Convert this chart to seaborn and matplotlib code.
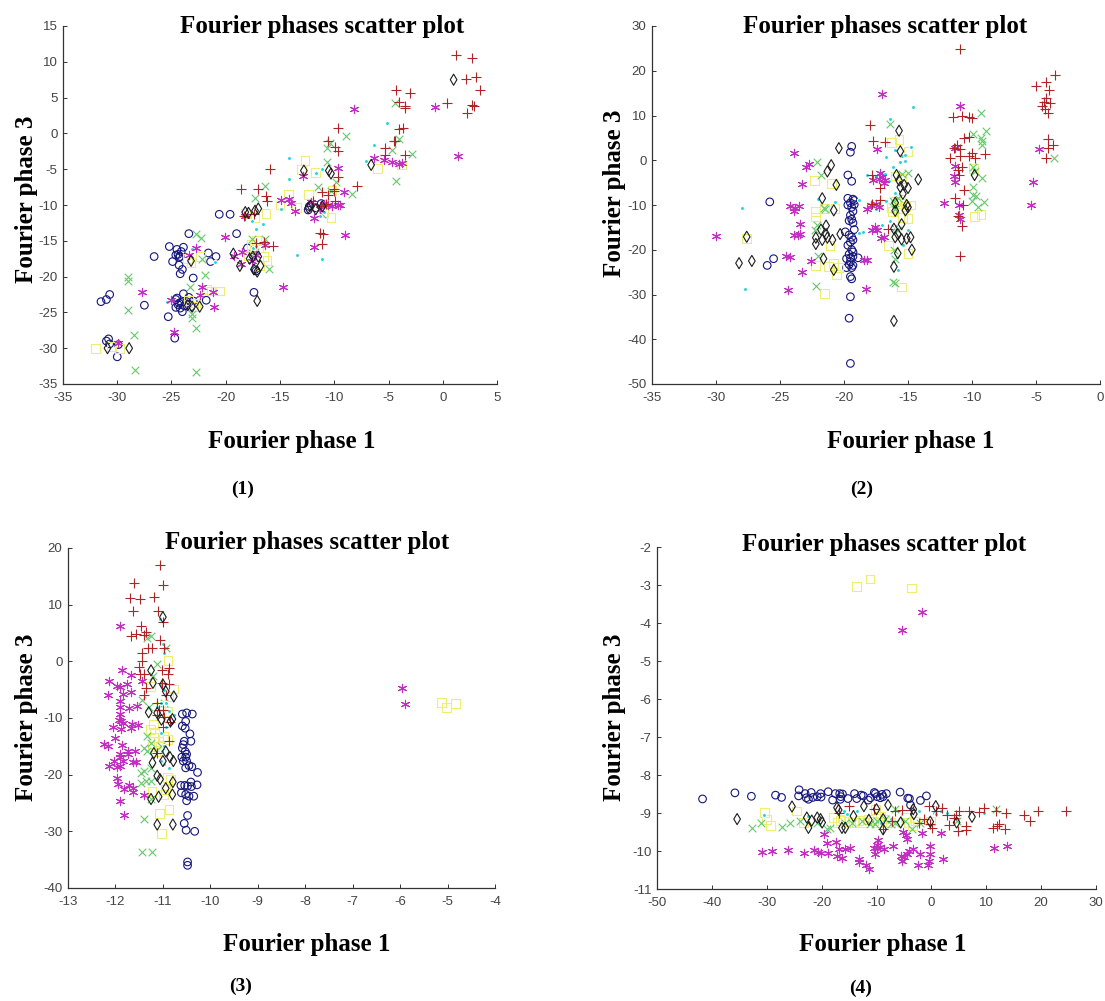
import matplotlib
matplotlib.use('Agg')
import matplotlib.pyplot as plt
import pandas as pd
import seaborn as sns

# panel 1 values, (phase 1, phase 3)
p1_circle = [(-31.5,-23.5),(-31,-23.2),(-30.7,-22.5),(-27.5,-24),(-26.6,-17.2),(-25.2,-15.8),(-24.9,-17.9),(-24.6,-17),(-24.5,-16.2),(-24.3,-17.3),(-24.1,-16.5),(-24.3,-18.4),(-24.2,-19.6),(-24,-19),(-23.9,-15.9),(-23.4,-14),(-23,-20.2),(-21.6,-16.7),(-21.4,-17.9),(-20.9,-17.2),(-20.6,-11.3),(-19.6,-11.3),(-19,-14),(-25.3,-25.6),(-24.7,-28.6),(-24.6,-24.3),(-24.5,-23),(-24.3,-23.7),(-24.2,-24.4),(-24,-24.9),(-23.9,-22.4),(-23.6,-23.5),(-23.4,-22.9),(-23.2,-24.2),(-23,-23.4),(-24.6,-23.2),(-21.8,-23.3),(-17.4,-22.2),(-31,-29),(-30.8,-28.7),(-30.7,-29.4),(-30,-31.2),(-29.9,-29.5),(-18,-16),(-17.5,-17),(-17.3,-19),(-17.2,-19.2),(-12.4,-10.7),(-12.3,-10.2),(-11.2,-9.8),(-11.7,-10.4),(-24.4,-23.9),(-24.1,-23.6),(-23.8,-24.1),(-24.2,-17.2),(-24.4,-16.9)]
p1_diamond = [(1,7.5),(-6.6,-4.4),(-12.8,-5.2),(-10.5,-5.2),(-10.3,-5.6),(-17,-10.5),(-17.3,-10.8),(-17.9,-11.1),(-19.3,-16.8),(-18.7,-18.5),(-17.8,-17.5),(-17.4,-19),(-17.1,-19.3),(-17.1,-23.4),(-16.8,-18.5),(-17.5,-17.2),(-17,-17.2),(-12.4,-10.4),(-12.2,-10.1),(-11.7,-10.6),(-11.1,-10.2),(-30.9,-30),(-28.9,-30),(-23.2,-17.8),(-22.4,-24.2),(-23.5,-24),(-23.1,-24.2),(-18.2,-11)]
p1_square = [(-32,-30),(-30.5,-29.8),(-29.8,-30),(-23.2,-18),(-22.3,-17.2),(-23.5,-17.5),(-21.8,-21.8),(-20.6,-22),(-21.3,-22),(-23.4,-23.3),(-23,-24.2),(-22.8,-23.7),(-18.2,-11.2),(-17.3,-11.8),(-16.3,-11.2),(-15,-10),(-14.2,-8.5),(-13.5,-10.3),(-12.4,-8.5),(-12.7,-3.8),(-13,-5),(-11.7,-5.5),(-11,-11),(-10.3,-11.7),(-10.2,-8),(-6,-4.9),(-3.8,-4.4),(-17.6,-15.5),(-17.2,-15),(-16.5,-17.2),(-16.2,-17.8),(-17,-16),(-17.9,-17),(-17.4,-15.9),(-16.9,-18.4)]
p1_cross = [(-29,-20),(-29,-20.6),(-29,-24.7),(-28.5,-28.2),(-28.4,-33.1),(-22.7,-33.3),(-22.7,-27.2),(-23.1,-25.8),(-23.1,-25.2),(-22.7,-14),(-22.3,-14.6),(-22.2,-17.5),(-21.9,-19.8),(-23.3,-21.5),(-17.3,-9),(-16.4,-7.4),(-17.6,-14.8),(-16.4,-14.7),(-16,-18.9),(-11.5,-7.5),(-10.7,-4),(-10.7,-2),(-10.4,-1.3),(-8.9,-0.3),(-9.8,-6.8),(-10.3,-8),(-8.4,-8.5),(-4.4,4.2),(-4,-0.8),(-4.7,-2.3),(-4.3,-6.6),(-2.8,-2.9),(-11.1,-11.3),(-17.3,-16.5),(-10.9,-10)]
p1_star = [(-27.7,-22.2),(-29.9,-29.3),(-24.8,-27.7),(-25,-23.2),(-23.4,-17),(-22.7,-16),(-22.2,-21.4),(-22.4,-22.6),(-21.2,-22.2),(-21.1,-24.3),(-20.1,-14.4),(-18.5,-16.5),(-18.6,-18.3),(-19.2,-17.1),(-18.2,-11.5),(-16.4,-15.6),(-14.7,-21.4),(-14.9,-9.3),(-14.2,-9.2),(-14,-9.7),(-13.6,-10.9),(-12.9,-6),(-11.9,-11.8),(-11.9,-15.8),(-12.1,-9.6),(-9,-14.2),(-9.1,-8.2),(-9.7,-4.8),(-8.2,3.4),(-6.3,-3.5),(-5.4,-3.7),(-4.7,-4),(-4,-4.3),(-3.8,-4.1),(-0.7,3.7),(1.4,-3.1),(-10.6,-10),(-10.2,-10.2),(-9.7,-10),(-9.5,-10),(-10.9,-9.8),(-11.3,-10.5),(-17.2,-17),(-17.6,-17.8)]
p1_plus = [(1.2,11),(2.7,10.6),(3.1,7.9),(2.1,7.6),(3.4,6),(0.4,4.2),(2.7,3.9),(2.9,3.8),(2.2,2.8),(-4.3,6),(-3,5.6),(-4,4.4),(-3.5,3.8),(-3.5,3.5),(-4,0.6),(-3.7,0.7),(-4.4,-1),(-4.5,-1.1),(-5.3,-2),(-5.3,-3),(-3.5,-3),(-9.7,0.8),(-10.6,-1),(-9.9,-1.9),(-9.7,-2.4),(-9.7,-6.1),(-7.9,-7.4),(-11.1,-8.2),(-10,-7.7),(-10,-8.1),(-10.6,-8.6),(-9.9,-9.5),(-15.9,-5),(-18.6,-7.7),(-17,-7.7),(-16.3,-8.8),(-16.2,-9.5),(-15.6,-15.7),(-16.5,-15.1),(-17.2,-15.3),(-11.3,-13.9),(-11,-14.1),(-11.1,-15.4),(-11.2,-10.2),(-10.8,-9.9),(-17.4,-11.3),(-18.3,-11.6),(-12,-9.5)]
p1_dot = [(-25.4,-23.6),(-23.1,-16.2),(-21,-17.9),(-17.6,-12.3),(-17.2,-13.4),(-16.6,-12.6),(-14.9,-10.6),(-14.2,-6.3),(-14.2,-3.5),(-13.4,-17),(-11.1,-17.6),(-11.7,-5.6),(-11.1,-5),(-5.1,1.5),(-6.3,-1.6),(-7.1,-3.8),(-17,-16.5),(-17.5,-16),(-11.3,-11.5),(-17.2,-15.7),(-10.9,-11)]

# panel 2 values
p2_circle = [(-25.8,-9.3),(-26,-23.5),(-25.5,-22),(-19.4,3.1),(-19.5,1.8),(-19.7,-3.3),(-19.4,-4.7),(-19.7,-8.5),(-19.3,-8.7),(-19.2,-9),(-19.5,-9.5),(-19.7,-10),(-19.2,-9.9),(-19.4,-10.5),(-19.3,-11.4),(-19.5,-12.3),(-19.4,-13.2),(-19.6,-13.5),(-19.3,-14),(-19.2,-15.5),(-19.9,-16),(-19.6,-16.7),(-19.4,-17.2),(-19.3,-17.8),(-19.5,-18.3),(-19.7,-19),(-19.4,-20),(-19.3,-20.5),(-19.6,-21),(-19.5,-21.8),(-19.3,-21.5),(-18.9,-21.8),(-19.8,-22),(-19.5,-22.7),(-19.3,-23.5),(-19.6,-23.3),(-19.8,-24),(-19.4,-24),(-19.5,-26),(-19.4,-26.5),(-19.5,-30.5),(-19.6,-35.3),(-19.5,-45.4)]
p2_diamond = [(-20.4,2.7),(-21,-1.1),(-21.3,-2.5),(-20.6,-5.5),(-21.7,-8.5),(-20.8,-11.2),(-21.4,-14.6),(-21.8,-15.5),(-22.2,-17.3),(-22.2,-18.7),(-21.7,-17.8),(-21.4,-16.5),(-21.3,-17.3),(-20.9,-17.8),(-20.3,-16.5),(-21.6,-22),(-20.8,-24.5),(-28.2,-23),(-27.2,-22.5),(-27.6,-17.1),(-16.1,-35.9),(-15.7,6.6),(-15.6,2),(-14.2,-4.3),(-15.9,-3.3),(-15.7,-4.5),(-15.6,-6),(-15,-6.2),(-15.3,-5.5),(-15.4,-7.5),(-16,-9.5),(-16,-11.3),(-15.1,-10),(-15,-10.5),(-15.2,-11.2),(-15.5,-14.3),(-16.1,-15.3),(-16,-17.2),(-15.8,-16.5),(-15.1,-17.5),(-14.8,-17.2),(-15.5,-17.7),(-15.8,-20.8),(-14.7,-20),(-16.1,-23.8),(-9.8,-3.3)]
p2_square = [(-27.6,-17.5),(-22.3,-4.5),(-21,-5.2),(-22.2,-11.5),(-22.2,-12.7),(-21.5,-10.7),(-20.7,-10.7),(-21.1,-19),(-22.2,-23.5),(-21.2,-23.7),(-20.8,-23),(-20.4,-24),(-20.6,-25.5),(-21.5,-29.8),(-15.5,-28.3),(-16.5,-19),(-15,-20.8),(-16.3,3.9),(-15.7,4.6),(-15,2),(-16,-3.5),(-15.5,-4),(-16.3,-10.5),(-16,-9.2),(-15.5,-9.7),(-15.2,-10.3),(-14.8,-10),(-15.4,-12.8),(-15,-13),(-9.8,-12.6),(-9.3,-12.1),(-9.9,-1.8),(-15.8,-10.8),(-15.6,-8.8),(-16.2,-11.5)]
p2_cross = [(-22.1,-0.5),(-21.8,-3.3),(-21.6,-10.7),(-21.5,-11),(-22.1,-14.5),(-22.3,-15.5),(-22,-21.4),(-22.2,-28),(-16.4,8.2),(-16.2,-27.3),(-16,-27.5),(-16,-15.2),(-15.8,-15.5),(-16.1,-20),(-16,-22),(-16.2,-9),(-15.8,-8.5),(-16,-10.8),(-15.5,-3),(-15,-2.8),(-9.3,10.5),(-9.9,5.8),(-9.3,5),(-8.9,6.5),(-9.2,3.5),(-9.2,4.2),(-9.9,-1.5),(-9.8,-2.5),(-9.2,-4),(-9.9,-6),(-9.9,-7.7),(-9.7,-8),(-10,-9),(-9.5,-10.5),(-9.1,-9.3),(-3.6,0.4)]
p2_star = [(-30,-16.9),(-23.9,1.6),(-23,-1.5),(-22.7,-0.9),(-23.3,-5.4),(-24.2,-10.2),(-23.9,-11.3),(-23.8,-10.7),(-23.5,-10.3),(-23.4,-14.3),(-23.9,-16.8),(-23.6,-16.8),(-23.4,-16.4),(-24.5,-21.5),(-24.2,-21.6),(-23.3,-24.9),(-24.4,-29),(-22.6,-22.5),(-18.4,-22.4),(-18.2,-22.3),(-18.3,-28.7),(-18.2,-10.8),(-17.9,-10),(-17.5,-9.8),(-17.3,-10.5),(-17.6,-15),(-17.8,-15.5),(-17.4,-15.5),(-17.1,-17.3),(-16.9,-17.2),(-17,14.7),(-17.4,2.5),(-17.2,-2.8),(-17,-3.7),(-17.3,-4.2),(-17.7,-4.5),(-16.8,-4.5),(-16.9,-5),(-11.3,2.7),(-11.3,-1.2),(-11.4,-3.6),(-11.3,-4.8),(-12.2,-9.5),(-11,-10),(-10.9,12.2),(-11,-12.3),(-10.9,-13.2),(-5.2,-4.8),(-5.4,-10),(-4.8,2.6)]
p2_plus = [(-10.9,24.8),(-3.5,19),(-4.2,17.5),(-5,16.7),(-4,15.8),(-4.2,14),(-4.4,13),(-4.5,12.2),(-4.3,11.5),(-3.9,12.7),(-4.1,10.5),(-4.1,4.8),(-4.1,2.8),(-3.7,3.4),(-4.2,0.4),(-18,7.9),(-17.7,4.2),(-16.8,4),(-17.8,-3.2),(-17.2,-6.2),(-17.2,-8.8),(-17.8,-9.8),(-16.6,-15.4),(-11.5,9.7),(-10.8,10),(-10.2,9.6),(-10,9.4),(-10.6,5),(-10.2,5.3),(-11.2,3.3),(-11.4,2.8),(-10.9,2.5),(-10.9,0.9),(-11.7,0.6),(-10.2,0.9),(-10,1.7),(-9.8,0.5),(-9,1.4),(-10.8,-1.4),(-11.1,-2.2),(-11,-3.3),(-10.6,-6.7),(-11.3,-8.5),(-10.7,-9.9),(-11.1,-12.5),(-10.8,-14.6),(-10.9,-21.3)]
p2_dot = [(-28,-10.7),(-27.7,-28.7),(-22,-8.7),(-20.7,-9.3),(-18.8,-8.8),(-18.5,-16),(-18.8,-16.3),(-18.2,-3.4),(-16.4,9.3),(-14.6,11.8),(-14.8,3),(-16,2.3),(-15.5,1),(-15.2,1.2),(-16.7,0.8),(-15.6,-0.5),(-15.2,-0.2),(-16.2,-1.5),(-16.8,-3),(-16.5,-4.6),(-17.5,-11),(-16.7,-9),(-16,-7.4),(-16.4,-13.5),(-17,-14.5),(-15.9,-14.8),(-15,-15.5),(-15.4,-19),(-15.8,-24.5),(-17.2,-10.5),(-17.5,-3.5)]

# panel 3 values
p3_circle = [(-10.59,-9.3),(-10.5,-9.1),(-10.38,-9.3),(-10.52,-10.6),(-10.59,-11.4),(-10.53,-11.8),(-10.43,-12.8),(-10.41,-14.1),(-10.55,-14.1),(-10.57,-14.7),(-10.59,-15.3),(-10.53,-15.9),(-10.5,-16.4),(-10.52,-16.9),(-10.6,-16.9),(-10.5,-17.6),(-10.57,-17.6),(-10.45,-18.4),(-10.39,-18.6),(-10.52,-18.8),(-10.27,-19.6),(-10.62,-21.9),(-10.54,-21.9),(-10.41,-21.3),(-10.28,-21.8),(-10.48,-22),(-10.4,-22.1),(-10.61,-23.2),(-10.52,-23.5),(-10.45,-23.8),(-10.35,-23.8),(-10.5,-24.6),(-10.48,-27.2),(-10.55,-28.6),(-10.51,-29.8),(-10.33,-30),(-10.48,-35.4),(-10.48,-36)]
p3_diamond = [(-11,7.8),(-11.25,-1.6),(-11.21,-3.8),(-11,-4.1),(-10.94,-5.3),(-10.77,-6.2),(-11.3,-9),(-11.12,-9.1),(-11.03,-10.3),(-10.84,-10.6),(-10.8,-10.2),(-11.19,-16.2),(-10.94,-15.9),(-10.85,-16.9),(-11.22,-17.9),(-11,-17.6),(-10.78,-17.6),(-11.12,-20.2),(-11.06,-20.8),(-10.79,-21.3),(-10.94,-22.4),(-10.8,-23.5),(-11.09,-23.9),(-11.25,-24.3),(-11.12,-28.8),(-10.79,-28.8)]
p3_square = [(-10.89,0.1),(-10.77,-4.9),(-11.26,-4.4),(-10.87,-6.2),(-11.05,-8),(-10.91,-8.8),(-11.19,-11.2),(-11.26,-12),(-11.18,-12.6),(-10.98,-13.2),(-10.91,-13.8),(-11.23,-15),(-11.09,-15),(-10.91,-20.5),(-10.84,-20.9),(-10.95,-22.6),(-11.23,-23),(-10.98,-23.5),(-10.87,-26.2),(-11.07,-26.9),(-11.03,-30.4),(-5.13,-7.2),(-5.03,-8.2),(-4.83,-7.4),(-11.2,-13.5),(-11.1,-14.2),(-11.16,-16)]
p3_cross = [(-11.33,4.1),(-11.26,4.4),(-10.93,2.4),(-11.12,-0.5),(-11.2,-2.6),(-11.43,-6.8),(-11.3,-8),(-10.98,-7.4),(-11.33,-13.2),(-11.26,-14.4),(-11.4,-15.3),(-11.33,-15.9),(-11.39,-19.4),(-11.26,-18.8),(-11.47,-21.5),(-11.35,-21.2),(-11.26,-21.1),(-11.47,-19.7),(-11.26,-24.3),(-11.4,-27.9),(-11.45,-33.7),(-11.24,-33.6),(-11.05,-15)]
p3_star = [(-11.9,6.3),(-11.87,-1.5),(-11.67,-2.4),(-12.13,-3.4),(-11.97,-4.4),(-11.9,-4.6),(-11.76,-4),(-12.15,-6),(-11.84,-5.7),(-11.67,-5.4),(-11.9,-7),(-11.91,-8),(-11.72,-8.2),(-11.55,-7.8),(-11.91,-9.3),(-11.88,-10.6),(-11.93,-10.3),(-11.85,-10.9),(-12.06,-11.6),(-11.88,-12),(-11.67,-11.8),(-11.65,-11),(-11.53,-11.3),(-12,-13.5),(-11.86,-14.7),(-12.25,-14.5),(-12.16,-14.9),(-11.91,-16.4),(-11.74,-15.9),(-11.58,-15.9),(-11.74,-16.3),(-12.04,-17.5),(-11.84,-17.5),(-11.91,-16.8),(-11.62,-17.8),(-11.57,-17.8),(-12.13,-18.5),(-11.96,-18.7),(-11.91,-18.5),(-11.96,-20.6),(-11.94,-21.6),(-11.72,-21.8),(-11.82,-22.6),(-11.63,-22.4),(-11.63,-23.1),(-11.91,-24.7),(-11.81,-27.1),(-11.4,-23.5),(-11.45,-3.4),(-5.97,-4.7),(-5.89,-7.6)]
p3_plus = [(-11.06,17),(-10.99,13.5),(-11.6,13.8),(-11.69,11.2),(-11.49,11),(-11.18,11.3),(-11.1,8.8),(-11.62,8.8),(-11,6.9),(-11.46,6.3),(-11.67,4.4),(-11.57,4.8),(-11.39,4.7),(-11.35,5.2),(-11.06,3.7),(-10.98,2.4),(-11.31,2.4),(-11.23,2.4),(-11.43,1.5),(-11.45,0),(-11.5,-1),(-11.48,-2.3),(-11.39,-2.2),(-10.87,-1.2),(-11.01,-1.6),(-10.9,-2.3),(-10.88,-4),(-11.01,-3.8),(-11.39,-6),(-10.93,-5.9),(-11.35,-4.7),(-11.12,-7.4),(-11.09,-8.5),(-11,-8.5),(-11.13,-9.4),(-10.98,-9.8),(-10.84,-10.7),(-11,-11.6),(-11.12,-16.2),(-10.87,-14.1)]
p3_dot = [(-11.06,7.5),(-11,3),(-10.98,1.5),(-11.05,-4.2),(-10.98,-5),(-10.94,-7.4),(-11.05,-7.4),(-10.87,-8.8),(-10.77,-9.4),(-10.98,-10),(-11.05,-12.6),(-10.94,-11.5),(-10.98,-15),(-11.01,-15.9),(-11.05,-17.6),(-10.98,-18.2),(-10.87,-18.8),(-11.12,-8)]

# panel 4 values
p4_circle = [(-41.7,-8.63),(-35.8,-8.47),(-32.8,-8.56),(-28.4,-8.53),(-27.3,-8.59),(-24.1,-8.39),(-24.2,-8.55),(-23,-8.49),(-22.8,-8.6),(-22.4,-8.64),(-21.9,-8.46),(-21.6,-8.59),(-20.8,-8.57),(-20.2,-8.49),(-20.1,-8.58),(-18.8,-8.44),(-18,-8.66),(-17.5,-8.49),(-16.7,-8.49),(-16.5,-8.57),(-16.6,-8.64),(-16.2,-8.5),(-15.2,-8.62),(-14,-8.49),(-13.6,-8.62),(-12.8,-8.53),(-12.4,-8.55),(-11.5,-8.66),(-11.1,-8.6),(-10.4,-8.46),(-10.2,-8.49),(-9.9,-8.57),(-9.3,-8.6),(-9,-8.51),(-8.8,-8.57),(-8.2,-8.49),(-5.7,-8.45),(-4.3,-8.61),(-4,-8.62),(-3.8,-8.79),(-2,-8.67),(-0.9,-8.55)]
p4_diamond = [(-35.4,-9.16),(-25.4,-8.83),(-22.7,-9.12),(-22.4,-9.39),(-21.8,-9.2),(-20.8,-9.12),(-20.2,-9.16),(-19.9,-9.25),(-17.2,-8.86),(-16.9,-8.92),(-16.3,-9.39),(-15.7,-9.39),(-14.2,-9.08),(-12.3,-8.82),(-11.4,-9.18),(-10,-8.9),(-8.8,-9.16),(-8.8,-9.43),(-7.9,-8.79),(-5.6,-9.25),(-3.3,-8.9),(-3.2,-9.03),(-0.2,-9.23),(0.8,-8.82),(4.6,-9.25),(7.4,-9.1)]
p4_square = [(-30.4,-8.99),(-30.1,-9.17),(-29.3,-9.33),(-24.6,-8.95),(-23.3,-9.25),(-17.8,-9.12),(-17.2,-9.25),(-16,-9.16),(-14.2,-9.25),(-12.3,-9.25),(-10.2,-8.9),(-10.5,-9.21),(-9.3,-9.08),(-7.5,-9.25),(-4.1,-9.25),(-3.5,-9.34),(-2.9,-9.21),(-4.7,-9.12),(-0.2,-9.21),(-13.6,-3.03),(-11.2,-2.84),(-3.6,-3.08),(-16.6,-9.2),(-15.2,-9.22),(-13.2,-9.2),(-11.5,-9.18),(-9.8,-9.24),(-8.6,-9.16)]
p4_cross = [(-32.7,-9.39),(-31,-9.25),(-27.2,-9.37),(-25.8,-9.25),(-23.9,-9.21),(-20.8,-9.25),(-19,-9.43),(-18.4,-9.39),(-15.7,-9.25),(-14.5,-9.25),(-10.2,-9.3),(-9.9,-9.21),(-8.4,-9.16),(-6.6,-8.89),(-6.6,-9.25),(-3.5,-9.43),(-2,-9.25),(4.7,-9.21),(11.7,-8.9),(-12.6,-9.22),(-11.2,-9.28),(-7.4,-9.3),(-4.8,-9.2)]
p4_star = [(-30.9,-10.03),(-29,-10),(-26.1,-9.97),(-23.2,-10.05),(-21.3,-9.97),(-20.7,-10.03),(-20.2,-10.05),(-18.9,-10.05),(-19.5,-9.56),(-19.1,-9.78),(-17.3,-9.76),(-17.2,-10.13),(-16.9,-9.94),(-16.2,-10.19),(-15.7,-9.94),(-14.9,-9.92),(-13.2,-10.22),(-13.1,-10.29),(-11.9,-10.38),(-11.4,-10.47),(-9.7,-9.7),(-9.9,-9.83),(-10.5,-9.92),(-9.9,-9.93),(-9.3,-9.89),(-10.2,-10.09),(-8.6,-9.96),(-7,-9.87),(-5.6,-10.13),(-5.4,-10.25),(-5,-10.17),(-4.4,-10.09),(-4,-10),(-3.4,-9.94),(-5.2,-9.5),(-4.7,-9.58),(-4.4,-9.69),(-1.7,-9.52),(-2,-10.09),(-2.5,-10.37),(-0.7,-10.37),(-0.2,-9.87),(-0.2,-10.09),(-0.4,-10.27),(1.8,-9.52),(2.2,-10.2),(11.4,-9.93),(13.7,-9.86),(-5.4,-4.18),(-1.7,-3.7)]
p4_plus = [(24.5,-8.96),(19.4,-8.96),(16.8,-9.04),(17.9,-9.21),(13.6,-8.99),(13.5,-9.41),(11.8,-8.95),(11.2,-9.39),(12,-9.35),(12.3,-9.3),(9.5,-8.86),(8.7,-8.97),(6.9,-8.95),(5,-8.95),(4.4,-9.04),(4.1,-9.12),(3.2,-9.32),(4.9,-9.47),(6.3,-9.34),(6.3,-9.45),(2.9,-9.06),(2,-8.86),(-0.4,-8.82),(-0.2,-9.3),(0.2,-9.39),(0.8,-8.95),(-1.4,-9.17),(-2.3,-9.25),(-3.8,-8.92),(-5.3,-8.93),(-6.6,-8.95),(-7.2,-9.21),(-8.8,-9.43),(-10.5,-8.89),(-15,-8.82),(-16.9,-8.99)]
p4_dot = [(-30.5,-9.05),(-22.4,-9.08),(-16,-8.95),(-15.4,-9.03),(-13.5,-8.95),(-2.2,-8.95),(0.5,-8.99),(1.1,-9.03),(1.7,-8.95),(2.9,-8.99),(9.5,-8.99),(0.8,-9.03),(-7.4,-9.16),(-9.2,-9.25)]

# x ticks and y ticks of the four panels
p1_xticks = [-35, -30, -25, -20, -15, -10, -5, 0, 5]
p1_yticks = [-35, -30, -25, -20, -15, -10, -5, 0, 5, 10, 15]
p2_xticks = [-35, -30, -25, -20, -15, -10, -5, 0]
p2_yticks = [-50, -40, -30, -20, -10, 0, 10, 20, 30]
p3_xticks = [-13, -12, -11, -10, -9, -8, -7, -6, -5, -4]
p3_yticks = [-40, -30, -20, -10, 0, 10, 20]
p4_xticks = [-50, -40, -30, -20, -10, 0, 10, 20, 30]
p4_yticks = [-11, -10, -9, -8, -7, -6, -5, -4, -3, -2]

W, H = 1105, 1001
serif = ['Liberation Serif', 'DejaVu Serif']

sns.set_theme(style='white')
plt.rcParams['font.family'] = ['Liberation Sans', 'DejaVu Sans']
plt.rcParams['axes.unicode_minus'] = False

# name, marker, colour, size, open or not
styles = [
    ('circle', 'o', '#16167e', 30, True),
    ('square', 's', '#eeee70', 40, True),
    ('cross', 'x', '#66c96a', 30, False),
    ('dot', '.', '#22d3d3', 34, False),
    ('star', (6, 2, 0), '#c22fc2', 36, False),
    ('plus', '+', '#b02428', 44, False),
    ('diamond', 'd', '#1c1c1c', 32, True),
]


def to_frame(circle, diamond, square, cross, star, plus, dot):
    groups = {'circle': circle, 'diamond': diamond, 'square': square, 'cross': cross,
              'star': star, 'plus': plus, 'dot': dot}
    rows = [(k, x, y) for k, pts in groups.items() for x, y in pts]
    return pd.DataFrame(rows, columns=['group', 'phase1', 'phase3'])


def draw_panel(df, box, xticks, yticks):
    l, t, r, b = box
    ax = fig.add_axes([l / W, 1 - b / H, (r - l) / W, (b - t) / H])
    for name, marker, color, size, hollow in styles:
        sub = df[df['group'] == name]
        sns.scatterplot(data=sub, x='phase1', y='phase3', marker=marker, color=color,
                        s=size, linewidth=0.8, ax=ax, legend=False, clip_on=False)
        if hollow:
            ax.collections[-1].set_facecolor('none')
            ax.collections[-1].set_edgecolor(color)
    ax.set_xlim(xticks[0], xticks[-1])
    ax.set_ylim(yticks[0], yticks[-1])
    ax.set_xticks(xticks)
    ax.set_yticks(yticks)
    ax.set_xlabel('')
    ax.set_ylabel('')
    ax.tick_params(direction='in', length=3, width=0.7, color='#333333', labelcolor='#444444',
                   labelsize=9.5, bottom=True, left=True)
    ax.tick_params(axis='x', pad=6)
    ax.tick_params(axis='y', pad=4)
    sns.despine(ax=ax)
    for s in ['left', 'bottom']:
        ax.spines[s].set_color('#333333')
        ax.spines[s].set_linewidth(0.9)
    return ax


def label(x, y, text, size=18, rotation=0):
    fig.text(x / W, 1 - y / H, text, family=serif, weight='bold', fontsize=size,
             color='black', ha='center', va='center', rotation=rotation)


fig = plt.figure(figsize=(W / 100, H / 100), dpi=100)

draw_panel(to_frame(p1_circle, p1_diamond, p1_square, p1_cross, p1_star, p1_plus, p1_dot),
           (63, 26, 497, 384), p1_xticks, p1_yticks)
draw_panel(to_frame(p2_circle, p2_diamond, p2_square, p2_cross, p2_star, p2_plus, p2_dot),
           (652, 26, 1100, 384), p2_xticks, p2_yticks)
draw_panel(to_frame(p3_circle, p3_diamond, p3_square, p3_cross, p3_star, p3_plus, p3_dot),
           (68, 548, 495, 888), p3_xticks, p3_yticks)
draw_panel(to_frame(p4_circle, p4_diamond, p4_square, p4_cross, p4_star, p4_plus, p4_dot),
           (657, 547, 1096, 889), p4_xticks, p4_yticks)

# titles, axis labels and panel numbers sit at fixed spots around the panels
title = 'Fourier phases scatter plot'
for x, y in [(322, 26), (885, 26), (307, 542), (884, 545)]:
    label(x, y, title)
for x, y in [(292, 442), (911, 442), (307, 945), (883, 945)]:
    label(x, y, 'Fourier phase 1')
for x, y in [(27, 199), (615, 193), (27, 717), (615, 717)]:
    label(x, y, 'Fourier phase 3', rotation=90)
for x, y, s in [(243, 489, '(1)'), (862, 489, '(2)'), (241, 986, '(3)'), (861, 988, '(4)')]:
    label(x, y, s, size=14)

fig.savefig('out.png', dpi=100)
